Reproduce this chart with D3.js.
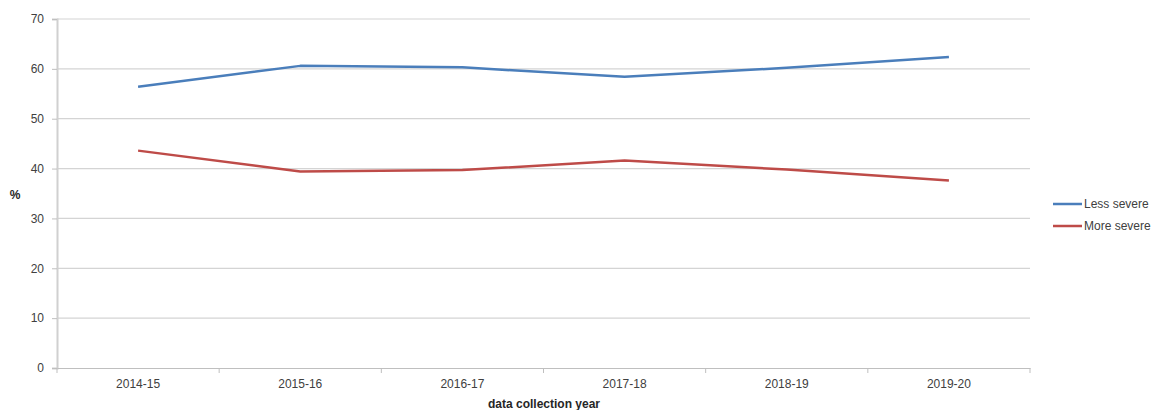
<!DOCTYPE html>
<html>
<head>
<meta charset="utf-8">
<script src="https://cdn.jsdelivr.net/npm/d3@7"></script>
<style>
  html, body { margin: 0; padding: 0; background: #fff; }
  text { font-family: "Liberation Sans", Arial, sans-serif; }
</style>
</head>
<body>
<svg id="chart" width="1164" height="410"></svg>
<script>
// Share of cases by severity, per data collection year
const years = ["2014-15", "2015-16", "2016-17", "2017-18", "2018-19", "2019-20"];
const lessSevere = [56.4, 60.6, 60.3, 58.4, 60.2, 62.4];
const moreSevere = [43.6, 39.4, 39.7, 41.6, 39.8, 37.6];
const yTicks = [0, 10, 20, 30, 40, 50, 60, 70];
const seriesNames = ["Less severe", "More severe"];
const seriesColors = ["#4a7ebb", "#be4b48"];

const series = [
  { name: seriesNames[0], color: seriesColors[0], values: lessSevere },
  { name: seriesNames[1], color: seriesColors[1], values: moreSevere }
];

const svg = d3.select("#chart");
const plotLeft = 57, plotRight = 1030, plotTop = 19, plotBottom = 368;

const x = d3.scaleBand().domain(years).range([plotLeft, plotRight]);
const y = d3.scaleLinear().domain([0, 70]).range([plotBottom, plotTop]);

// horizontal gridlines
svg.append("g")
  .selectAll("line")
  .data(yTicks.filter(t => t > 0))
  .join("line")
  .attr("x1", plotLeft).attr("x2", plotRight)
  .attr("y1", d => y(d)).attr("y2", d => y(d))
  .attr("stroke", "#d4d4d4").attr("stroke-width", 1.2);

// y axis
const yAxis = svg.append("g")
  .attr("transform", `translate(${plotLeft},0)`)
  .call(d3.axisLeft(y).tickValues(yTicks).tickSize(5).tickPadding(8));
yAxis.select(".domain").attr("stroke", "#d0d0d0").attr("stroke-width", 2);
yAxis.selectAll(".tick line").attr("stroke", "#bfbfbf");
yAxis.selectAll("text").attr("font-size", 12).attr("fill", "#404040")
  .attr("font-family", "'Liberation Sans', Arial, sans-serif");

// x axis with ticks on the category boundaries
const xAxis = svg.append("g")
  .attr("transform", `translate(0,${plotBottom})`)
  .call(d3.axisBottom(x).tickSize(0).tickPadding(11));
xAxis.select(".domain").attr("stroke", "#bfbfbf").attr("stroke-width", 1.2);
xAxis.selectAll("text").attr("font-size", 12).attr("fill", "#404040")
  .attr("font-family", "'Liberation Sans', Arial, sans-serif");

const boundaries = years.map(d => x(d)).concat([x(years[years.length - 1]) + x.bandwidth()]);
svg.append("g")
  .selectAll("line")
  .data(boundaries)
  .join("line")
  .attr("x1", d => d).attr("x2", d => d)
  .attr("y1", plotBottom).attr("y2", plotBottom + 5)
  .attr("stroke", "#bfbfbf");

// series lines
const line = d3.line()
  .x((v, i) => x(years[i]) + x.bandwidth() / 2)
  .y(v => y(v));

svg.append("g")
  .selectAll("path")
  .data(series)
  .join("path")
  .attr("d", d => line(d.values))
  .attr("fill", "none")
  .attr("stroke", d => d.color)
  .attr("stroke-width", 2.5)
  .attr("stroke-linejoin", "round");

// axis titles
svg.append("text")
  .attr("x", 544).attr("y", 408)
  .attr("text-anchor", "middle")
  .attr("font-size", 12).attr("font-weight", "bold").attr("fill", "#262626")
  .text("data collection year");

svg.append("text")
  .attr("x", 15).attr("y", 199)
  .attr("text-anchor", "middle")
  .attr("font-size", 12).attr("font-weight", "bold").attr("fill", "#262626")
  .text("%");

// legend
const legend = svg.append("g")
  .selectAll("g")
  .data(series)
  .join("g")
  .attr("transform", (d, i) => `translate(1053,${204 + i * 22})`);
legend.append("line")
  .attr("x1", 0).attr("x2", 29)
  .attr("y1", 0).attr("y2", 0)
  .attr("stroke", d => d.color).attr("stroke-width", 2.5);
legend.append("text")
  .attr("x", 31).attr("y", 4)
  .attr("font-size", 12).attr("fill", "#404040")
  .text(d => d.name);
</script>
</body>
</html>
